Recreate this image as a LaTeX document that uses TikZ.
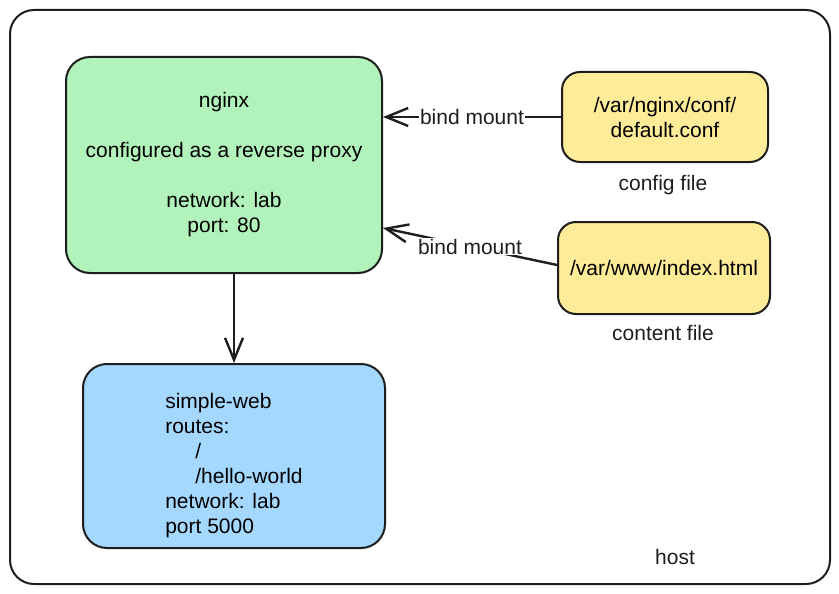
\documentclass[tikz,border=0pt]{standalone}
\usepackage{fontspec}
\setmainfont{Liberation Sans}
\usetikzlibrary{arrows.meta}

\definecolor{inkline}{HTML}{1E1E1E}
\definecolor{proxyfill}{HTML}{B2F2BB}
\definecolor{webfill}{HTML}{A5D8FF}
\definecolor{filefill}{HTML}{FFEC99}

\begin{document}
\begin{tikzpicture}[x=1pt,y=-1pt,->,>={Straight Barb[length=22pt,width=18pt]},
    font=\fontsize{21}{25}\selectfont]
  \tikzstyle{box}=[rectangle,draw=inkline,line width=2pt,rounded corners=24pt,inner sep=0pt]
  \tikzstyle{filebox}=[box,fill=filefill,rounded corners=18pt,align=center]
  \tikzstyle{link}=[draw=inkline,line width=2.4pt]
  \tikzstyle{tag}=[fill=white,inner sep=1pt,text=inkline]
  \useasboundingbox (0,0) rectangle (839,594);
  \node[box,minimum width=820pt,minimum height=574pt] (B_host) at (420,297) {};
  \node[text=inkline] (L_host) at (675,557) {host};
  \node[box,fill=proxyfill,minimum width=316pt,minimum height=216pt,align=center] (B_nginx) at (224,165)
    {nginx\\ \\configured as a reverse proxy\\ \\network: lab\\port: 80};
  \node[box,fill=webfill,minimum width=302pt,minimum height=184pt,align=left] (B_web) at (234,456)
    {\rule{0pt}{34pt}simple-web\\routes:\\\hspace{30pt}/\\\hspace{30pt}/hello-world\\network: lab\\port 5000};
  \node[filebox,minimum width=206pt,minimum height=90pt] (B_conf) at (665,117)
    {/var/nginx/conf/\\default.conf};
  \node[filebox,minimum width=212pt,minimum height=92pt] (B_html) at (664,268)
    {/var/www/index.html};
  \node[text=inkline] (L_conf) at (663,185) {config file};
  \node[text=inkline] (L_html) at (663,333) {content file};
  \draw[link] (B_conf.west) -- node[tag] {bind mount} (B_nginx.east |- B_conf.west);
  \draw[link] ([yshift=3pt]B_html.west) -- node[tag] {bind mount} ([yshift=-63pt]B_nginx.east);
  \draw[link] (B_web.north |- B_nginx.south) -- (B_web.north);
\end{tikzpicture}
\end{document}
